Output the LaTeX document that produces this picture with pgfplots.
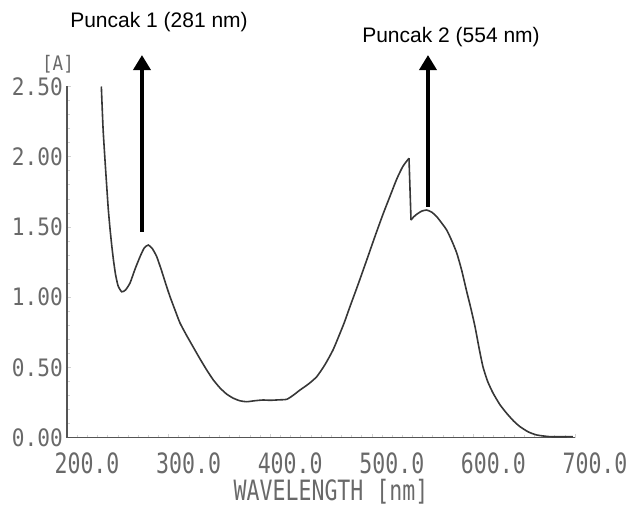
\documentclass[border=0pt]{standalone}
\usepackage{pgfplots}
\pgfplotsset{compat=1.18}
\usepackage{fontspec}
\setmainfont{Liberation Sans}
\newfontfamily\xfont[FakeStretch=0.77]{DejaVu Sans Mono}
\newfontfamily\yfont[FakeStretch=0.88]{DejaVu Sans Mono}
\usetikzlibrary{arrows.meta}
\definecolor{ink}{RGB}{55,55,55}
\definecolor{axisgray}{RGB}{85,85,85}
\definecolor{labgray}{RGB}{105,105,105}

\begin{document}
\begin{tikzpicture}
\useasboundingbox (0pt,0pt) rectangle (631pt,506pt);
\begin{axis}[
    at={(67pt,68.5pt)}, anchor=south west,
    scale only axis, width=508pt, height=351pt,
    xmin=200, xmax=700, ymin=0, ymax=2.5,
    axis x line*=bottom, axis y line*=left,
    axis line style={axisgray, line width=1.3pt, -},
    xtick={200,300,400,500,600,700},
    xticklabels={200.0,300.0,400.0,500.0,600.0,700.0},
    ytick={0,0.5,1,1.5,2,2.5},
    yticklabels={0.00,0.50,1.00,1.50,2.00,2.50},
    minor x tick num=9, minor y tick num=4,
    tick align=inside,
    major tick length=4pt, minor tick length=3pt,
    tick style={gray!35, line width=0.6pt},
    xticklabel style={font=\xfont\fontsize{28}{30}\selectfont, text=labgray,
        anchor=north, inner sep=0pt, xshift=20pt, yshift=-15.5pt},
    yticklabel style={font=\yfont\fontsize{24}{26}\selectfont, text=labgray,
        anchor=east, inner sep=0pt, xshift=-4pt},
    clip=false,
]
% spectrum up to the spike
\addplot[ink, line width=1.6pt, smooth, tension=0.35] coordinates {
(233.8,2.50) (235.5,2.20) (237.4,1.976) (239.0,1.80) (240.6,1.63) (242.3,1.49)
(244.0,1.37) (245.8,1.26) (247.8,1.16) (250.3,1.08) (253.8,1.038) (257.5,1.05)
(262.0,1.10) (267.0,1.20) (271.9,1.288) (276.0,1.350) (280.0,1.371) (284.0,1.345)
(288.3,1.288) (293.0,1.19) (298.1,1.074) (301.4,1.003) (306.3,0.908) (311.2,0.816)
(317.5,0.73) (324.0,0.647) (330.5,0.565) (337.5,0.481) (344.0,0.41) (350.6,0.353)
(357.0,0.31) (363.4,0.281) (370.0,0.262) (376.9,0.255) (385.0,0.262) (392.9,0.267)
(400.0,0.265) (408.0,0.268) (416.2,0.272) (422.5,0.30) (429.3,0.338) (437.5,0.38)
(445.8,0.433) (454.0,0.52) (461.8,0.623) (468.0,0.73) (473.0,0.82) (478.5,0.932)
(486.0,1.08) (495.0,1.264) (503.0,1.43) (511.0,1.59) (518.0,1.72) (524.5,1.84)
(530.5,1.93) (536.6,1.989)
};
% spike drop
\addplot[ink, line width=1.6pt] coordinates {(536.6,1.989) (538.6,1.549)};
% spectrum after the spike
\addplot[ink, line width=1.6pt, smooth, tension=0.35] coordinates {
(538.6,1.549) (541.0,1.570) (544.2,1.590) (549.0,1.612) (554.0,1.620) (559.0,1.605)
(563.9,1.573) (568.5,1.530) (573.7,1.478) (578.5,1.405) (583.6,1.314) (588.5,1.19)
(593.4,1.04) (597.5,0.92) (601.6,0.789) (605.5,0.64) (609.4,0.504) (614.0,0.40)
(619.3,0.317) (626.0,0.235) (632.8,0.172) (639.5,0.118) (645.9,0.077) (654.0,0.040)
(662.3,0.018) (675.4,0.006) (698.0,0.006)
};
% peak arrows
\draw[black, line width=3.6pt, -{Triangle[width=17pt,length=15pt]}]
    (axis cs:273.8,1.464) -- (axis cs:273.8,2.724);
\draw[black, line width=3.6pt, -{Triangle[width=17pt,length=15pt]}]
    (axis cs:555.3,1.642) -- (axis cs:555.3,2.724);
\end{axis}
\node[anchor=base, inner sep=0pt, font=\fontsize{21}{24}\selectfont] at (159pt,478pt) {Puncak 1 (281 nm)};
\node[anchor=base, inner sep=0pt, font=\fontsize{21}{24}\selectfont] at (451pt,463pt) {Puncak 2 (554 nm)};
\node[inner sep=0pt, text=labgray, font=\xfont\fontsize{28}{30}\selectfont] at (331pt,14pt) {WAVELENGTH [nm]};
\node[inner sep=0pt, text=labgray, font=\yfont\fontsize{20}{22}\selectfont] at (58pt,442pt) {[A]};
\end{tikzpicture}
\end{document}
